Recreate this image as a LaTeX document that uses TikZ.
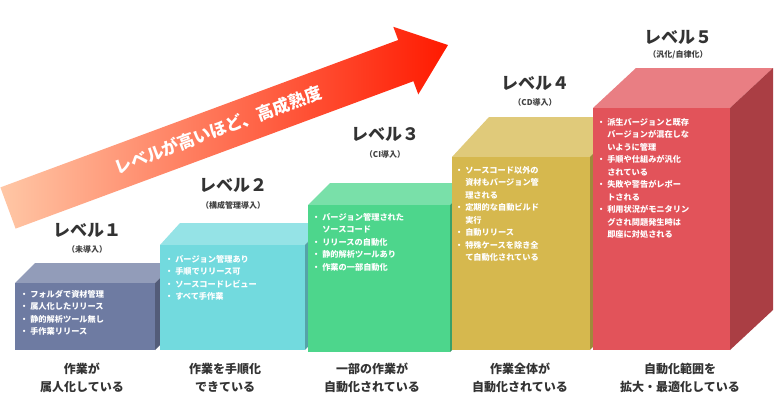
\documentclass[tikz,border=0pt]{standalone}
\usepackage{fontspec}
\setmainfont{Noto Sans CJK JP}
\definecolor{cA}{HTML}{6E7BA2}
\definecolor{cB}{HTML}{72DADE}
\definecolor{cC}{HTML}{4DD68C}
\definecolor{cD}{HTML}{D6B84E}
\definecolor{cE}{HTML}{E2535A}
\tikzset{
 lvl/.style={font=\bfseries\fontsize{17}{18}\selectfont, text=black!80},
 sub/.style={font=\bfseries\fontsize{8}{9}\selectfont, text=black!75},
 captext/.style={font=\bfseries\fontsize{12}{18}\selectfont, text=black!80, align=center},
 items/.style={font=\bfseries\fontsize{8.2}{12.5}\selectfont, text=white, align=left, anchor=north west, inner sep=0pt},
}
\newcommand{\mybox}[7]{% x1 y1 x2 y2 dx dy color
 \fill[#7!75!white] (#1,#2) -- ++(#5,-#6) -- (#3+#5,#2-#6) -- (#3,#2) -- cycle;
 \fill[#7!75!black] (#3,#2) -- (#3+#5,#2-#6) -- (#3+#5,#4-#6) -- (#3,#4) -- cycle;
 \fill[#7] (#1,#2) rectangle (#3,#4);
}
\begin{document}
\begin{tikzpicture}[x=1pt,y=-1pt]
\useasboundingbox (0,0) rectangle (780,418);
\fill[white] (0,0) rectangle (780,418);
% arrow
\shade[left color=red!25!orange!35, right color=red!80!orange] (0.4,187.4) -- (398.2,40) -- (393.3,26.8) -- (448,45) -- (418.3,94.4) -- (413.4,81.2) -- (15.6,228.6) -- cycle;
\node[font=\bfseries\fontsize{17}{18}\selectfont, text=white, rotate=20.5] (arrt) at (218,130) {レベルが高いほど、高成熟度};
% boxes
\mybox{15}{283}{155}{350}{20}{20}{cA}
\mybox{160}{245}{305}{350}{20}{22}{cB}
\mybox{308}{205}{450}{352}{22}{22}{cC}
\mybox{452}{157}{590}{350}{37}{40}{cD}
\mybox{593}{108}{730}{350}{43}{40}{cE}
% items
\node[items] (i1) at (20,290) {・ フォルダで資材管理\\・ 属人化したリリース\\・ 静的解析ツール無し\\・ 手作業リリース};
\node[items] (i2) at (165,255) {・ バージョン管理あり\\・ 手順でリリース可\\・ ソースコードレビュー\\・ すべて手作業};
\node[items] (i3) at (312,213) {・ バージョン管理された\\\phantom{・ }ソースコード\\・ リリースの自動化\\・ 静的解析ツールあり\\・ 作業の一部自動化};
\node[items] (i4) at (455,166) {・ ソースコード以外の\\\phantom{・ }資材もバージョン管\\\phantom{・ }理される\\・ 定期的な自動ビルド\\\phantom{・ }実行\\・ 自動リリース\\・ 特殊ケースを除き全\\\phantom{・ }て自動化されている};
\node[items] (i5) at (597,118) {・ 派生バージョンと既存\\\phantom{・ }バージョンが混在しな\\\phantom{・ }いように管理\\・ 手順や仕組みが汎化\\\phantom{・ }されている\\・ 失敗や警告がレポー\\\phantom{・ }トされる\\・ 利用状況がモニタリン\\\phantom{・ }グされ問題発生時は\\\phantom{・ }即座に対処される};
% labels
\node[lvl] (l1) at (87,230) {レベル１};
\node[sub] (s1) at (87,249) {（未導入）};
\node[lvl] (l2) at (233,185) {レベル２};
\node[sub] (s2) at (233,205) {（構成管理導入）};
\node[lvl] (l3) at (385,134) {レベル３};
\node[sub] (s3) at (385,154) {（CI導入）};
\node[lvl] (l4) at (535,83) {レベル４};
\node[sub] (s4) at (535,102) {（CD導入）};
\node[lvl] (l5) at (678,37) {レベル５};
\node[sub] (s5) at (678,55) {（汎化/自律化）};
% captions
\node[captext] (c1) at (82,378) {作業が\\属人化している};
\node[captext] (c2) at (225,378) {作業を手順化\\できている};
\node[captext] (c3) at (372,378) {一部の作業が\\自動化されている};
\node[captext] (c4) at (520,378) {作業全体が\\自動化されている};
\node[captext] (c5) at (680,378) {自動化範囲を\\拡大・最適化している};
\end{tikzpicture}
\end{document}
